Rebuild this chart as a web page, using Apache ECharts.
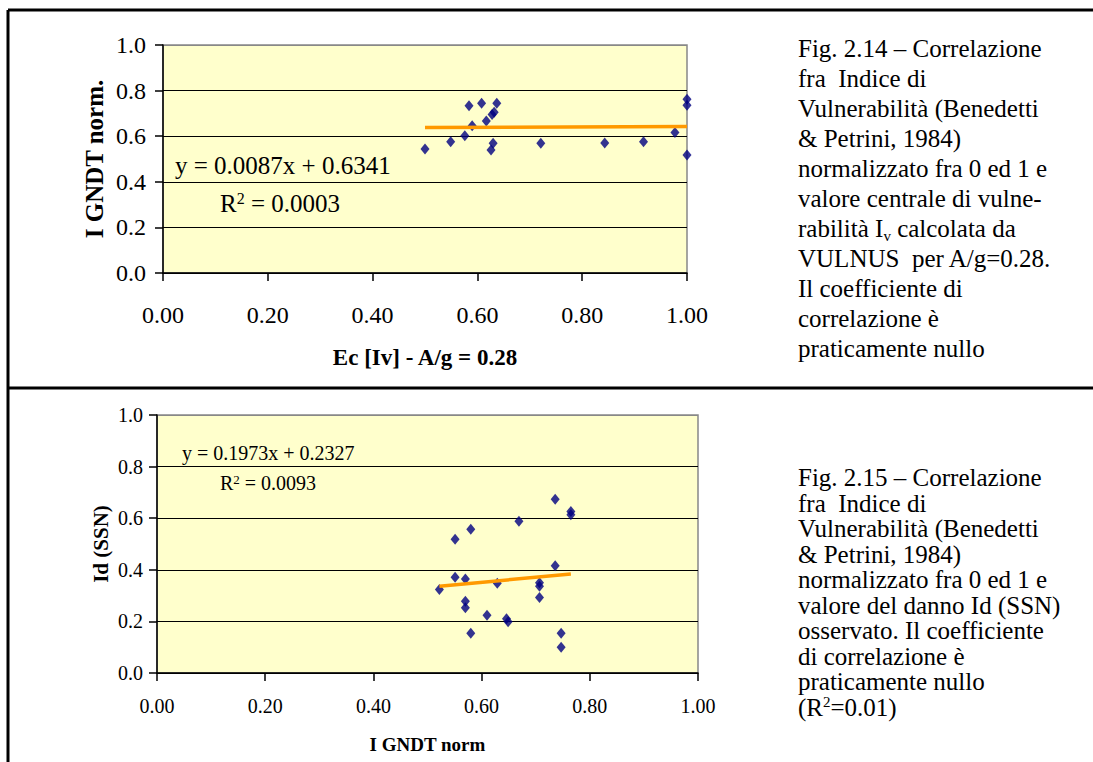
<!DOCTYPE html>
<html>
<head>
<meta charset="utf-8">
<script src="https://cdn.jsdelivr.net/npm/echarts@6/dist/echarts.min.js"></script>
<style>
  html, body { margin: 0; padding: 0; background: #fff; }
  #chart { width: 1093px; height: 762px; }
</style>
</head>
<body>
<div id="chart"></div>
<script>
// Fig. 2.14 - Ec[Iv] vs I GNDT norm
var topX = [0.50, 0.549, 0.576, 0.590, 0.584, 0.608, 0.617, 0.628, 0.632, 0.637, 0.630, 0.626, 0.721, 0.843, 0.917, 0.977, 1.0, 1.0, 1.0];
var topY = [0.544, 0.576, 0.602, 0.646, 0.734, 0.744, 0.667, 0.695, 0.705, 0.744, 0.569, 0.539, 0.569, 0.570, 0.576, 0.616, 0.762, 0.736, 0.518];
var topTrend = [[0.50, 0.638], [1.00, 0.643]];

// Fig. 2.15 - I GNDT norm vs Id (SSN)
var botX = [0.522, 0.551, 0.580, 0.551, 0.570, 0.570, 0.570, 0.580, 0.610, 0.629, 0.646, 0.649, 0.669, 0.707, 0.707, 0.707, 0.736, 0.736, 0.765, 0.765, 0.747, 0.747];
var botY = [0.324, 0.518, 0.557, 0.371, 0.364, 0.278, 0.253, 0.154, 0.224, 0.348, 0.210, 0.199, 0.588, 0.350, 0.336, 0.293, 0.673, 0.416, 0.626, 0.613, 0.154, 0.100];
var botTrend = [[0.522, 0.336], [0.765, 0.384]];

var caption1 = [
    'Fig. 2.14 – Correlazione',
    'fra  Indice di',
    'Vulnerabilità (Benedetti',
    '& Petrini, 1984)',
    'normalizzato fra 0 ed 1 e',
    'valore centrale di vulne-',
    'rabilità I{sub|v} calcolata da',
    'VULNUS  per A/g=0.28.',
    'Il coefficiente di',
    'correlazione è',
    'praticamente nullo'
];
var caption2 = [
    'Fig. 2.15 – Correlazione',
    'fra  Indice di',
    'Vulnerabilità (Benedetti',
    '& Petrini, 1984)',
    'normalizzato fra 0 ed 1 e',
    'valore del danno Id (SSN)',
    'osservato. Il coefficiente',
    'di correlazione è',
    'praticamente nullo',
    '(R{sup|2}=0.01)'
];

var SERIF = '"Liberation Serif", "Times New Roman", serif';

function pairs(xs, ys) {
    var out = [];
    for (var i = 0; i < xs.length; i++) out.push([xs[i], ys[i]]);
    return out;
}

function xAxisOf(idx, size, name, nameSize, margin, gap) {
    return {
        gridIndex: idx, type: 'value', min: 0, max: 1, interval: 0.2,
        name: name, nameLocation: 'middle', nameGap: gap,
        nameTextStyle: { fontFamily: SERIF, fontWeight: 'bold', fontSize: nameSize, color: '#000' },
        axisLine: { onZero: false, lineStyle: { color: '#000', width: 1.5 } },
        axisTick: { inside: false, length: 8, lineStyle: { color: '#000', width: 1.5 } },
        axisLabel: { fontFamily: SERIF, fontSize: size, color: '#000', margin: margin,
            formatter: function (v) { return v.toFixed(2); } },
        splitLine: { show: false }
    };
}

function yAxisOf(idx, size, name, nameSize, margin, gap) {
    return {
        gridIndex: idx, type: 'value', min: 0, max: 1, interval: 0.2,
        name: name, nameLocation: 'middle', nameGap: gap,
        nameTextStyle: { fontFamily: SERIF, fontWeight: 'bold', fontSize: nameSize, color: '#000' },
        axisLine: { onZero: false, lineStyle: { color: '#000', width: 1.5 } },
        axisTick: { inside: false, length: 8, lineStyle: { color: '#000', width: 1.5 } },
        axisLabel: { fontFamily: SERIF, fontSize: size, color: '#000', margin: margin,
            formatter: function (v) { return v.toFixed(1); } },
        splitLine: { show: true, lineStyle: { color: ['#000', '#000', '#000', '#000', '#000', '#888'], width: 1.2 } }
    };
}

var option = {
    backgroundColor: '#fff',
    animation: false,
    grid: [
        { left: 163, top: 45, width: 524, height: 228, show: true,
          backgroundColor: '#FFFFCC', borderColor: '#888', borderWidth: 1.5 },
        { left: 157, top: 415, width: 541, height: 258, show: true,
          backgroundColor: '#FFFFCC', borderColor: '#888', borderWidth: 1.5 }
    ],
    xAxis: [
        xAxisOf(0, 24, 'Ec [Iv] - A/g = 0.28', 23, 30, 73),
        xAxisOf(1, 20, 'I GNDT norm', 19, 23, 62)
    ],
    yAxis: [
        yAxisOf(0, 24, 'I GNDT norm.', 25, 17, 56),
        yAxisOf(1, 20, 'Id (SSN)', 21, 14, 46)
    ],
    series: [
        { type: 'scatter', xAxisIndex: 0, yAxisIndex: 0, data: pairs(topX, topY),
          symbol: 'diamond', symbolSize: [9, 11], itemStyle: { color: '#000080' }, z: 3 },
        { type: 'line', xAxisIndex: 0, yAxisIndex: 0, data: topTrend, showSymbol: false,
          lineStyle: { color: '#FF9900', width: 3.5 }, z: 4 },
        { type: 'scatter', xAxisIndex: 1, yAxisIndex: 1, data: pairs(botX, botY),
          symbol: 'diamond', symbolSize: [9, 11], itemStyle: { color: '#000080' }, z: 3 },
        { type: 'line', xAxisIndex: 1, yAxisIndex: 1, data: botTrend, showSymbol: false,
          lineStyle: { color: '#FF9900', width: 3.5 }, z: 4 }
    ],
    graphic: [
        // page frame
        { type: 'line', shape: { x1: 8, y1: 10, x2: 1093, y2: 10 }, style: { stroke: '#000', lineWidth: 3 } },
        { type: 'line', shape: { x1: 8, y1: 10, x2: 8, y2: 762 }, style: { stroke: '#000', lineWidth: 3 } },
        { type: 'line', shape: { x1: 8, y1: 388, x2: 1093, y2: 388 }, style: { stroke: '#000', lineWidth: 3 } },
        // trendline equations
        { type: 'text', x: 175, y: 165, z: 10, style: { text: 'y = 0.0087x + 0.6341', font: '25px ' + SERIF,
          fill: '#000', verticalAlign: 'middle' } },
        { type: 'text', x: 220, y: 203, z: 10, style: { text: 'R{sup|2} = 0.0003', font: '25px ' + SERIF,
          fill: '#000', verticalAlign: 'middle',
          rich: { sup: { fontSize: 16, fontFamily: SERIF, verticalAlign: 'top', lineHeight: 14 } } } },
        { type: 'text', x: 182, y: 453, z: 10, style: { text: 'y = 0.1973x + 0.2327', font: '20px ' + SERIF,
          fill: '#000', verticalAlign: 'middle' } },
        { type: 'text', x: 220, y: 483, z: 10, style: { text: 'R{sup|2} = 0.0093', font: '20px ' + SERIF,
          fill: '#000', verticalAlign: 'middle',
          rich: { sup: { fontSize: 13, fontFamily: SERIF, verticalAlign: 'top', lineHeight: 11 } } } },
        // captions
        { type: 'text', x: 798, y: 33, style: { text: caption1.join('\n'), font: '25px ' + SERIF,
          fill: '#000', lineHeight: 30, verticalAlign: 'top',
          rich: { sub: { fontSize: 15, fontFamily: SERIF, lineHeight: 16, verticalAlign: 'bottom' } } } },
        { type: 'text', x: 798, y: 465, style: { text: caption2.join('\n'), font: '25px ' + SERIF,
          fill: '#000', lineHeight: 25.5, verticalAlign: 'top',
          rich: { sup: { fontSize: 15, fontFamily: SERIF, lineHeight: 12, verticalAlign: 'top' } } } }
    ]
};

var myChart = echarts.init(document.getElementById('chart'), null, { renderer: 'svg' });
myChart.setOption(option);
</script>
</body>
</html>
